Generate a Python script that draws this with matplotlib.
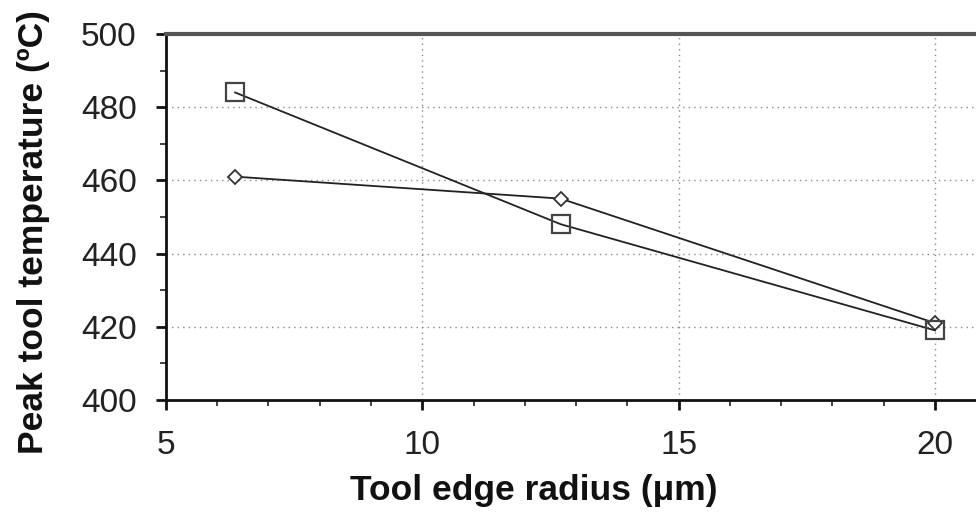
import matplotlib
matplotlib.use("Agg")
import matplotlib.pyplot as plt
from matplotlib.ticker import MultipleLocator

plt.rcParams['font.family'] = ['Liberation Sans', 'DejaVu Sans']

# Tool edge radius (um) and peak tool temperature (degC) for two cases
edge_radius = [6.35, 12.7, 20.0]
temp_square = [484, 448, 419]
temp_diamond = [461, 455, 421]

x_ticks = [5, 10, 15, 20]
y_ticks = [400, 420, 440, 460, 480, 500]

fig = plt.figure(figsize=(9.76, 5.14), dpi=100)
ax = fig.add_axes([0.170, 0.222, 0.830, 0.712])

ax.plot(edge_radius, temp_diamond, color='#222222', lw=1.3, marker='D',
        markersize=7.5, markerfacecolor='white', markeredgecolor='#333333',
        markeredgewidth=1.3, zorder=3)
ax.plot(edge_radius, temp_square, color='#222222', lw=1.3, marker='s',
        markersize=13, markerfacecolor='none', markeredgecolor='#444444',
        markeredgewidth=1.6, zorder=3)

ax.set_xlim(5, 20.8)
ax.set_ylim(400, 500)
ax.set_xticks(x_ticks)
ax.set_yticks(y_ticks)
ax.xaxis.set_minor_locator(MultipleLocator(1))
ax.yaxis.set_minor_locator(MultipleLocator(10))

ax.grid(True, which='major', linestyle=(0, (1, 3)), color='#888888', lw=1.0)
ax.set_axisbelow(True)

for side in ('left', 'bottom'):
    ax.spines[side].set_linewidth(2.0)
    ax.spines[side].set_color('#111111')
ax.spines['top'].set_linewidth(3.0)
ax.spines['top'].set_color('#555555')
ax.spines['right'].set_visible(False)

ax.tick_params(axis='both', which='major', direction='out', length=7, width=2,
               labelsize=24, colors='#111111', labelcolor='#222222')
ax.tick_params(axis='x', which='major', pad=15)
ax.tick_params(axis='y', which='major', pad=14)
ax.tick_params(axis='both', which='minor', direction='out', length=4, width=1.2,
               colors='#222222')

ax.set_xlabel('Tool edge radius (\u03bcm)', fontsize=25.5, fontweight='bold',
              color='#111111')
ax.set_ylabel('Peak tool temperature (\u00baC)', fontsize=25.5, fontweight='bold',
              color='#111111')
ax.xaxis.set_label_coords(0.454, -0.202)
ax.yaxis.set_label_coords(-0.143, 0.459)

fig.savefig('out.png', dpi=100)
